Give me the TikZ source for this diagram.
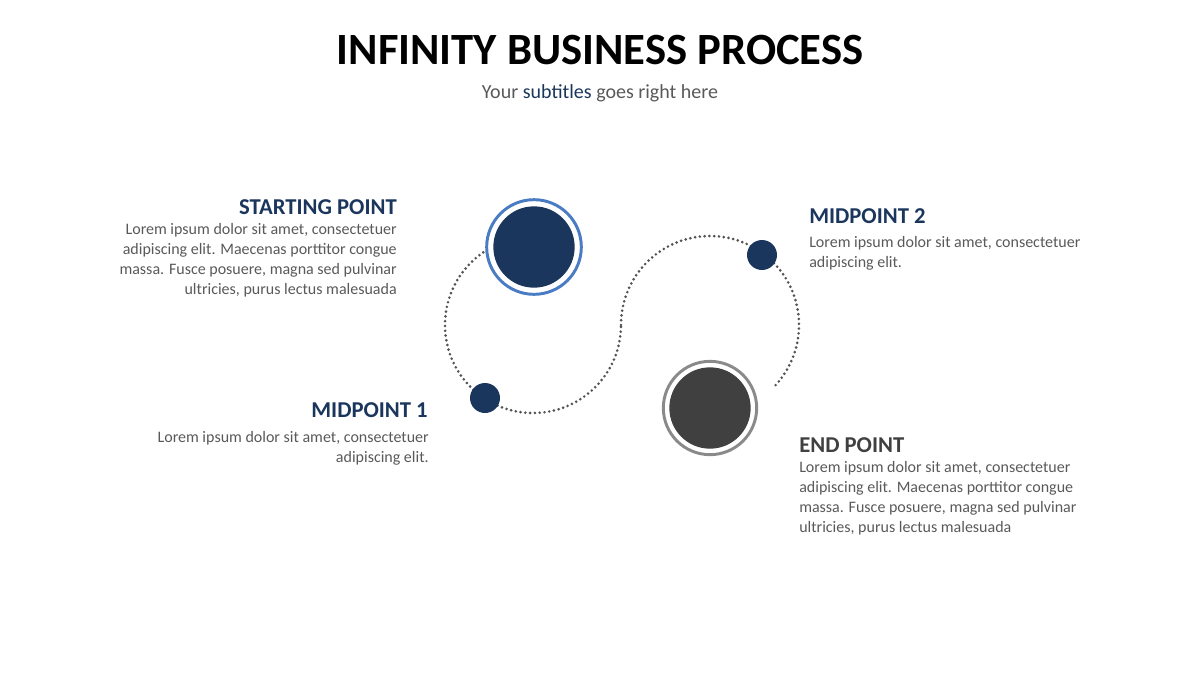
\documentclass[tikz,border=0pt]{standalone}
\usepackage{fontspec}
\setmainfont{Carlito}
\definecolor{navy}{HTML}{1B365D}
\definecolor{ringblue}{HTML}{4A7CC4}
\definecolor{dark}{HTML}{404040}
\definecolor{ringgray}{HTML}{8A8A8A}
\definecolor{txt}{HTML}{595959}
\begin{document}
\begin{tikzpicture}[x=0.75pt,y=-0.75pt,
  head/.style={font=\bfseries\fontsize{17}{20}\selectfont, text=navy, inner sep=0},
  body/.style={font=\fontsize{12}{15}\selectfont, text=txt, inner sep=0},
  dots/.style={draw=dark!90, line width=2.2pt, dash pattern=on 0pt off 3.6pt, line cap=round}]
\useasboundingbox (0,0) rectangle (1200,675);
\node[font=\bfseries\fontsize{33.5}{38}\selectfont, inner sep=0] (title) at (600,50) {INFINITY BUSINESS PROCESS};
\node[font=\fontsize{15}{18}\selectfont, text=txt, inner sep=0] (sub) at (600,93) {Your \textcolor{navy}{subtitles} goes right here};
% dotted S curve
\draw[dots] (533,237) arc[start angle=270, end angle=0, radius=88];
\draw[dots] (621,325) arc[start angle=180, end angle=405, radius=89];
% start circle
\node[circle, draw=ringblue, line width=2.2pt, fill=white, minimum size=71pt] (start) at (534,247) {};
\node[circle, fill=navy, minimum size=61pt] (startin) at (534,247) {};
% end circle
\node[circle, draw=ringgray, line width=2.2pt, fill=white, minimum size=70pt] (end) at (710,408) {};
\node[circle, fill=dark, minimum size=61pt] (endin) at (710,408) {};
% midpoints
\node[circle, fill=navy, minimum size=22.5pt] (m1) at (485,398) {};
\node[circle, fill=navy, minimum size=22.5pt] (m2) at (762,255) {};
% texts
\node[head, anchor=east] (h1) at (397,207) {STARTING POINT};
\node[body, anchor=north east, align=right] (b1) at (397,223) {Lorem ipsum dolor sit amet, consectetuer\\adipiscing elit. Maecenas porttitor congue\\massa. Fusce posuere, magna sed pulvinar\\ultricies, purus lectus malesuada};
\node[head, anchor=west] (h2) at (809,216) {MIDPOINT 2};
\node[body, anchor=north west, align=left] (b2) at (809,236) {Lorem ipsum dolor sit amet, consectetuer\\adipiscing elit.};
\node[head, anchor=east] (h3) at (428,410) {MIDPOINT 1};
\node[body, anchor=north east, align=right] (b3) at (429,431) {Lorem ipsum dolor sit amet, consectetuer\\adipiscing elit.};
\node[head, anchor=west, text=dark] (h4) at (799,445) {END POINT};
\node[body, anchor=north west, align=left] (b4) at (799,461) {Lorem ipsum dolor sit amet, consectetuer\\adipiscing elit. Maecenas porttitor congue\\massa. Fusce posuere, magna sed pulvinar\\ultricies, purus lectus malesuada};
\end{tikzpicture}
\end{document}
